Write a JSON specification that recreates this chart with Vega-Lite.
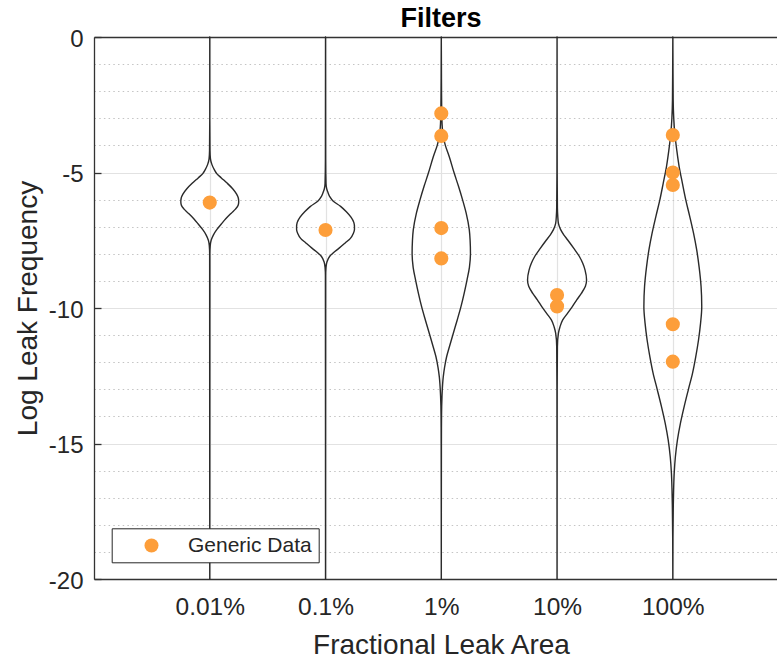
{
  "$schema": "https://vega.github.io/schema/vega-lite/v6.json",
  "autosize": {"type": "none"},
  "padding": {"left": 94, "top": 37, "right": 0, "bottom": 80},
  "width": 683,
  "height": 542,
  "background": "white",
  "title": {"text": "Filters", "fontSize": 27, "fontWeight": "bold", "color": "#000000", "font": "Liberation Sans", "anchor": "middle", "frame": "group", "offset": 9, "dx": 5.5, "dy": 15},
  "datasets": {
    "violins": [
      {"pos":1,"y":0,"w":0},{"pos":1,"y":-3,"w":0},{"pos":1,"y":-4.2,"w":0.002},{"pos":1,"y":-4.5,"w":0.006},{"pos":1,"y":-4.7,"w":0.018},{"pos":1,"y":-4.9,"w":0.04},{"pos":1,"y":-5.05,"w":0.062},{"pos":1,"y":-5.2,"w":0.1},{"pos":1,"y":-5.4,"w":0.152},{"pos":1,"y":-5.6,"w":0.198},{"pos":1,"y":-5.8,"w":0.232},{"pos":1,"y":-5.95,"w":0.247},{"pos":1,"y":-6.08,"w":0.25},{"pos":1,"y":-6.2,"w":0.246},{"pos":1,"y":-6.35,"w":0.222},{"pos":1,"y":-6.5,"w":0.186},{"pos":1,"y":-6.7,"w":0.14},{"pos":1,"y":-6.9,"w":0.1},{"pos":1,"y":-7.1,"w":0.062},{"pos":1,"y":-7.3,"w":0.032},{"pos":1,"y":-7.5,"w":0.012},{"pos":1,"y":-7.7,"w":0.004},{"pos":1,"y":-8,"w":0.001},{"pos":1,"y":-20,"w":0},
      {"pos":2,"y":0,"w":0},{"pos":2,"y":-4.5,"w":0.001},{"pos":2,"y":-5.4,"w":0.004},{"pos":2,"y":-5.6,"w":0.01},{"pos":2,"y":-5.75,"w":0.022},{"pos":2,"y":-5.9,"w":0.038},{"pos":2,"y":-6.05,"w":0.065},{"pos":2,"y":-6.25,"w":0.13},{"pos":2,"y":-6.45,"w":0.18},{"pos":2,"y":-6.65,"w":0.22},{"pos":2,"y":-6.85,"w":0.245},{"pos":2,"y":-7.0,"w":0.25},{"pos":2,"y":-7.1,"w":0.25},{"pos":2,"y":-7.25,"w":0.24},{"pos":2,"y":-7.43,"w":0.215},{"pos":2,"y":-7.6,"w":0.17},{"pos":2,"y":-7.8,"w":0.115},{"pos":2,"y":-7.95,"w":0.07},{"pos":2,"y":-8.1,"w":0.035},{"pos":2,"y":-8.3,"w":0.012},{"pos":2,"y":-8.5,"w":0.004},{"pos":2,"y":-8.8,"w":0.001},{"pos":2,"y":-20,"w":0},
      {"pos":3,"y":0,"w":0},{"pos":3,"y":-1,"w":0.001},{"pos":3,"y":-2,"w":0.002},{"pos":3,"y":-3,"w":0.005},{"pos":3,"y":-3.68,"w":0.017},{"pos":3,"y":-4.0,"w":0.035},{"pos":3,"y":-4.42,"w":0.069},{"pos":3,"y":-5.03,"w":0.112},{"pos":3,"y":-5.5,"w":0.148},{"pos":3,"y":-6.01,"w":0.184},{"pos":3,"y":-6.5,"w":0.215},{"pos":3,"y":-7.12,"w":0.242},{"pos":3,"y":-7.5,"w":0.249},{"pos":3,"y":-7.98,"w":0.252},{"pos":3,"y":-8.5,"w":0.243},{"pos":3,"y":-8.97,"w":0.222},{"pos":3,"y":-9.45,"w":0.198},{"pos":3,"y":-9.95,"w":0.17},{"pos":3,"y":-10.45,"w":0.137},{"pos":3,"y":-10.93,"w":0.104},{"pos":3,"y":-11.4,"w":0.072},{"pos":3,"y":-11.8,"w":0.046},{"pos":3,"y":-12.2,"w":0.028},{"pos":3,"y":-12.54,"w":0.017},{"pos":3,"y":-13.27,"w":0.006},{"pos":3,"y":-14,"w":0.002},{"pos":3,"y":-15,"w":0.001},{"pos":3,"y":-20,"w":0},
      {"pos":4,"y":0,"w":0},{"pos":4,"y":-5,"w":0.001},{"pos":4,"y":-6.3,"w":0.003},{"pos":4,"y":-6.6,"w":0.006},{"pos":4,"y":-6.88,"w":0.012},{"pos":4,"y":-7.1,"w":0.03},{"pos":4,"y":-7.3,"w":0.058},{"pos":4,"y":-7.49,"w":0.092},{"pos":4,"y":-7.8,"w":0.145},{"pos":4,"y":-8.1,"w":0.193},{"pos":4,"y":-8.35,"w":0.222},{"pos":4,"y":-8.6,"w":0.242},{"pos":4,"y":-8.97,"w":0.255},{"pos":4,"y":-9.2,"w":0.245},{"pos":4,"y":-9.46,"w":0.21},{"pos":4,"y":-9.7,"w":0.17},{"pos":4,"y":-9.95,"w":0.132},{"pos":4,"y":-10.2,"w":0.09},{"pos":4,"y":-10.44,"w":0.049},{"pos":4,"y":-10.7,"w":0.025},{"pos":4,"y":-10.93,"w":0.012},{"pos":4,"y":-11.43,"w":0.003},{"pos":4,"y":-13,"w":0.001},{"pos":4,"y":-20,"w":0},
      {"pos":5,"y":0,"w":0},{"pos":5,"y":-1,"w":0.001},{"pos":5,"y":-2.32,"w":0.003},{"pos":5,"y":-3,"w":0.008},{"pos":5,"y":-3.55,"w":0.017},{"pos":5,"y":-4.2,"w":0.035},{"pos":5,"y":-4.79,"w":0.055},{"pos":5,"y":-5.4,"w":0.083},{"pos":5,"y":-6.01,"w":0.112},{"pos":5,"y":-6.6,"w":0.145},{"pos":5,"y":-7.24,"w":0.179},{"pos":5,"y":-7.85,"w":0.206},{"pos":5,"y":-8.48,"w":0.227},{"pos":5,"y":-9.2,"w":0.244},{"pos":5,"y":-9.95,"w":0.25},{"pos":5,"y":-10.55,"w":0.24},{"pos":5,"y":-11.18,"w":0.222},{"pos":5,"y":-11.8,"w":0.198},{"pos":5,"y":-12.41,"w":0.17},{"pos":5,"y":-13.0,"w":0.135},{"pos":5,"y":-13.64,"w":0.098},{"pos":5,"y":-14.25,"w":0.066},{"pos":5,"y":-14.87,"w":0.04},{"pos":5,"y":-15.5,"w":0.022},{"pos":5,"y":-16.1,"w":0.012},{"pos":5,"y":-16.7,"w":0.007},{"pos":5,"y":-17.33,"w":0.004},{"pos":5,"y":-18.5,"w":0.001},{"pos":5,"y":-20,"w":0}
    ],
    "points": [
      {"pos":1,"val":-6.11},
      {"pos":2,"val":-7.12},
      {"pos":3,"val":-2.82},{"pos":3,"val":-3.65},{"pos":3,"val":-7.05},{"pos":3,"val":-8.17},
      {"pos":4,"val":-9.52},{"pos":4,"val":-9.94},
      {"pos":5,"val":-3.62},{"pos":5,"val":-5.0},{"pos":5,"val":-5.46},{"pos":5,"val":-10.6},{"pos":5,"val":-11.98}
    ]
  },
  "layer": [
    {
      "data": {"name": "violins"},
      "transform": [
        {"calculate": "datum.pos - datum.w", "as": "lo"},
        {"calculate": "datum.pos + datum.w", "as": "hi"}
      ],
      "mark": {"type": "area", "orient": "horizontal", "interpolate": "monotone", "fillOpacity": 0, "fill": "white", "stroke": "#2a2a2a", "strokeWidth": 1.4, "strokeJoin": "round"},
      "encoding": {
        "y": {"field": "y", "type": "quantitative", "scale": {"domain": [-20, 0], "nice": false, "zero": false},
          "axis": {"values": [-20, -15, -10, -5, 0], "labelExpr": "'' + datum.value", "tickSize": -7, "tickColor": "#333333", "tickWidth": 1.3, "labelPadding": 18, "labelOffset": 2, "labelFontSize": 24, "labelColor": "#262626", "labelFont": "Liberation Sans", "grid": true, "gridColor": "#e2e2e2", "gridWidth": 1.2, "domainColor": "#333333", "domainWidth": 1.3, "title": "Log Leak Frequency", "titleFontSize": 28, "titleFont": "Liberation Sans", "titleFontWeight": "normal", "titleColor": "#262626", "titlePadding": 6}},
        "x": {"field": "lo", "type": "quantitative", "scale": {"domain": [0, 5.9], "nice": false, "zero": false},
          "axis": {"values": [1, 2, 3, 4, 5], "labelExpr": "['', '0.01%', '0.1%', '1%', '10%', '100%'][datum.value]", "ticks": false, "labelPadding": 16, "labelFontSize": 24.5, "labelColor": "#262626", "labelFont": "Liberation Sans", "grid": true, "gridColor": "#e2e2e2", "gridWidth": 1.2, "domainColor": "#333333", "domainWidth": 1.3, "title": "Fractional Leak Area", "titleFontSize": 28, "titleFont": "Liberation Sans", "titleFontWeight": "normal", "titleColor": "#262626", "titleX": 347, "titleY": 74, "titleBaseline": "alphabetic", "titleAnchor": "middle"}},
        "x2": {"field": "hi"},
        "detail": {"field": "pos", "type": "nominal"}
      }
    },
    {
      "data": {"name": "points"},
      "mark": {"type": "point", "shape": "circle", "filled": true, "size": 200, "opacity": 1},
      "encoding": {
        "x": {"field": "pos", "type": "quantitative", "scale": {"domain": [0, 5.9], "nice": false, "zero": false},
          "axis": {"orient": "top", "labels": false, "ticks": false, "grid": false, "domain": true, "domainColor": "#333333", "domainWidth": 1.3, "title": null}},
        "y": {"field": "val", "type": "quantitative", "scale": {"domain": [-20, 0], "nice": false, "zero": false},
          "axis": {"orient": "left", "values": [-19, -18, -17, -16, -14, -13, -12, -11, -9, -8, -7, -6, -4, -3, -2, -1], "labels": false, "ticks": false, "domain": false, "grid": true, "gridColor": "#c4c4c4", "gridDash": [1.5, 3.2], "gridWidth": 1, "title": null}},
        "color": {"datum": "Generic Data", "type": "nominal", "scale": {"range": ["#FD9E3A"]},
          "legend": {"title": null, "orient": "none", "legendX": 17.7, "legendY": 491.3, "fillColor": "white", "strokeColor": "#262626", "padding": 6.7, "symbolType": "circle", "symbolSize": 196, "symbolOffset": 22.6, "labelOffset": 26, "labelFontSize": 21, "labelFont": "Liberation Sans", "labelColor": "#262626"}}
      }
    }
  ],
  "resolve": {"axis": {"x": "independent", "y": "independent"}},
  "config": {"view": {"stroke": null}, "font": "Liberation Sans"}
}
